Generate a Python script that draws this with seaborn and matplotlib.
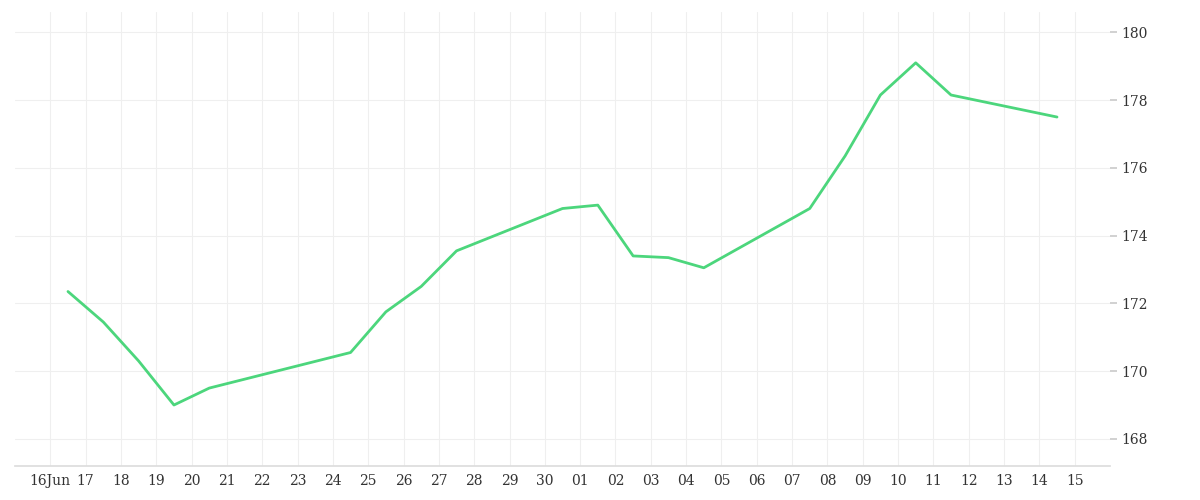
import matplotlib
matplotlib.use("Agg")
import matplotlib.pyplot as plt
import matplotlib.dates as mdates
import seaborn as sns
import pandas as pd

dates = ["2024-06-16 12:00","2024-06-17 12:00","2024-06-18 12:00","2024-06-19 12:00","2024-06-20 12:00",
         "2024-06-24 12:00","2024-06-25 12:00","2024-06-26 12:00","2024-06-27 12:00",
         "2024-06-30 12:00","2024-07-01 12:00","2024-07-02 12:00","2024-07-03 12:00","2024-07-04 12:00",
         "2024-07-07 12:00","2024-07-08 12:00","2024-07-09 12:00","2024-07-10 12:00","2024-07-11 12:00",
         "2024-07-14 12:00"]
values = [172.35,171.45,170.3,169.0,169.5,170.55,171.75,172.5,173.55,174.8,174.9,173.4,173.35,173.05,
          174.8,176.35,178.15,179.1,178.15,177.5]

df = pd.DataFrame({"date": pd.to_datetime(dates), "value": values})

sns.set_theme(style="white")
plt.rcParams['font.family'] = ['DejaVu Serif']
fig, ax = plt.subplots(figsize=(12, 5), dpi=100)
fig.subplots_adjust(left=0.0125, right=0.925, top=0.976, bottom=0.068)
sns.lineplot(data=df, x="date", y="value", ax=ax, color="#4cd67c", linewidth=2)

ax.set_xlim(pd.Timestamp("2024-06-15"), pd.Timestamp("2024-07-16"))
ax.set_ylim(167.2, 180.6)
ax.yaxis.tick_right()
ax.set_yticks([168,170,172,174,176,178,180])
ticks = pd.date_range("2024-06-16", "2024-07-15", freq="D")
ax.set_xticks(ticks)
ax.set_xticklabels(["16Jun" if i == 0 else t.strftime("%d") for i, t in enumerate(ticks)])
ax.grid(True, color="#efefef", linewidth=0.8)
ax.tick_params(axis="both", labelsize=10, colors="#333333", length=4, color="#cccccc")
ax.tick_params(axis="x", length=0, pad=6)
ax.tick_params(axis="y", length=5)
for s in ["top", "left", "right"]:
    ax.spines[s].set_visible(False)
ax.spines["bottom"].set_color("#dddddd")
ax.set_xlabel("")
ax.set_ylabel("")
fig.savefig("out.png")
